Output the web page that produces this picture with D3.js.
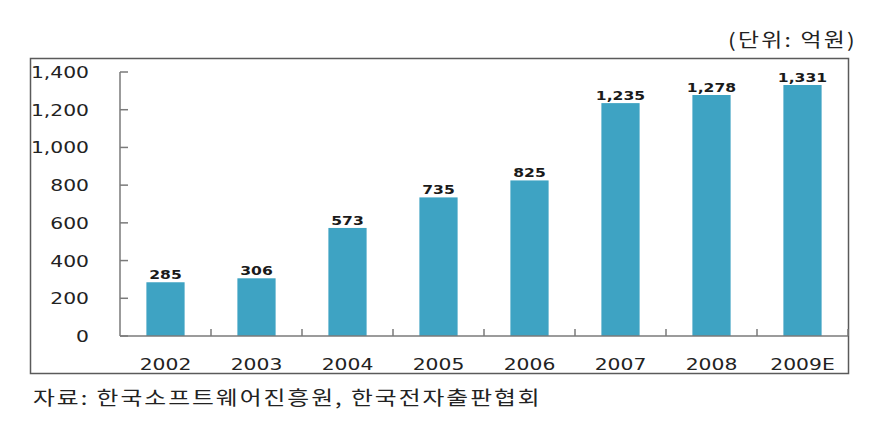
<!DOCTYPE html>
<html>
<head>
<meta charset="utf-8">
<script src="https://cdn.jsdelivr.net/npm/d3@7"></script>
<style>
  body { margin: 0; background: #fff; }
  svg { display: block; }
</style>
</head>
<body>
<svg id="chart" width="877" height="422"></svg>
<script>
// data (단위: 억원)
var years = ["2002", "2003", "2004", "2005", "2006", "2007", "2008", "2009E"];
var values = [285, 306, 573, 735, 825, 1235, 1278, 1331];
var yTicks = [0, 200, 400, 600, 800, 1000, 1200, 1400];

var unitLabel = "(단위: 억원)";
var sourceLabel = "자료: 한국소프트웨어진흥원, 한국전자출판협회";

var stretch = 1.27; // the original is drawn a little wide

var svg = d3.select("#chart");

var plot = {left: 120, right: 848, top: 72, bottom: 336};

var x = d3.scaleBand()
  .domain(years)
  .range([plot.left, plot.right])
  .paddingInner(0.58)
  .paddingOuter(0.29);

var y = d3.scaleLinear()
  .domain([0, 1400])
  .range([plot.bottom, plot.top]);

// outer frame
svg.append("rect")
  .attr("x", 30.5).attr("y", 58.5)
  .attr("width", 818).attr("height", 315)
  .attr("fill", "none")
  .attr("stroke", "#5a5a5a")
  .attr("stroke-width", 1.5);

// bars
svg.selectAll("rect.bar")
  .data(values)
  .enter()
  .append("rect")
    .attr("class", "bar")
    .attr("x", function(d, i) { return x(years[i]); })
    .attr("y", function(d) { return y(d); })
    .attr("width", x.bandwidth())
    .attr("height", function(d) { return plot.bottom - y(d); })
    .attr("fill", "#3ea3c3");

// y axis line + inward ticks
svg.append("line")
  .attr("x1", plot.left).attr("x2", plot.left)
  .attr("y1", y(1400)).attr("y2", plot.bottom)
  .attr("stroke", "#7a7a7a").attr("stroke-width", 1.5);

svg.selectAll("line.ytick")
  .data(yTicks)
  .enter()
  .append("line")
    .attr("x1", plot.left).attr("x2", plot.left + 8)
    .attr("y1", function(d) { return y(d); })
    .attr("y2", function(d) { return y(d); })
    .attr("stroke", "#7a7a7a").attr("stroke-width", 1.5);

svg.selectAll("text.ylab")
  .data(yTicks)
  .enter()
  .append("text")
    .attr("transform", function(d) { return "translate(89," + (y(d) + 6) + ") scale(" + stretch + ",1)"; })
    .attr("text-anchor", "end")
    .attr("font-family", "DejaVu Sans, Verdana, sans-serif")
    .attr("font-size", 16)
    .attr("fill", "#222")
    .text(function(d) { return d3.format(",")(d); });

// x axis line + ticks between bands
svg.append("line")
  .attr("x1", plot.left).attr("x2", plot.right)
  .attr("y1", plot.bottom).attr("y2", plot.bottom)
  .attr("stroke", "#7a7a7a").attr("stroke-width", 1.5);

var step = x.step();
var bounds = d3.range(years.length + 1).map(function(i) { return plot.left + i * step; });

svg.selectAll("line.xtick")
  .data(bounds.slice(1))
  .enter()
  .append("line")
    .attr("x1", function(d) { return d; }).attr("x2", function(d) { return d; })
    .attr("y1", plot.bottom - 7).attr("y2", plot.bottom)
    .attr("stroke", "#7a7a7a").attr("stroke-width", 1.5);

svg.selectAll("text.xlab")
  .data(years)
  .enter()
  .append("text")
    .attr("transform", function(d) { return "translate(" + (x(d) + x.bandwidth() / 2) + ",370) scale(" + stretch + ",1)"; })
    .attr("text-anchor", "middle")
    .attr("font-family", "DejaVu Sans, Verdana, sans-serif")
    .attr("font-size", 16)
    .attr("fill", "#222")
    .text(function(d) { return d; });

// value labels
svg.selectAll("text.val")
  .data(values)
  .enter()
  .append("text")
    .attr("transform", function(d, i) { return "translate(" + (x(years[i]) + x.bandwidth() / 2) + "," + (y(d) - 3) + ") scale(1.3,1)"; })
    .attr("text-anchor", "middle")
    .attr("font-family", "DejaVu Sans, Verdana, sans-serif")
    .attr("font-weight", "bold")
    .attr("font-size", 12)
    .attr("fill", "#1a1a1a")
    .text(function(d) { return d3.format(",")(d); });

// unit note and source
svg.append("text")
  .attr("transform", "translate(857,47) scale(1.2,1)")
  .attr("text-anchor", "end")
  .attr("font-family", "Noto Sans CJK KR, sans-serif")
  .attr("font-size", 19)
  .attr("letter-spacing", 1.9)
  .attr("fill", "#222")
  .text(unitLabel);

svg.append("text")
  .attr("transform", "translate(33,405) scale(1.25,1)")
  .attr("font-family", "Noto Sans CJK KR, sans-serif")
  .attr("font-size", 19)
  .attr("letter-spacing", 1.6)
  .attr("fill", "#222")
  .text(sourceLabel);
</script>
</body>
</html>
